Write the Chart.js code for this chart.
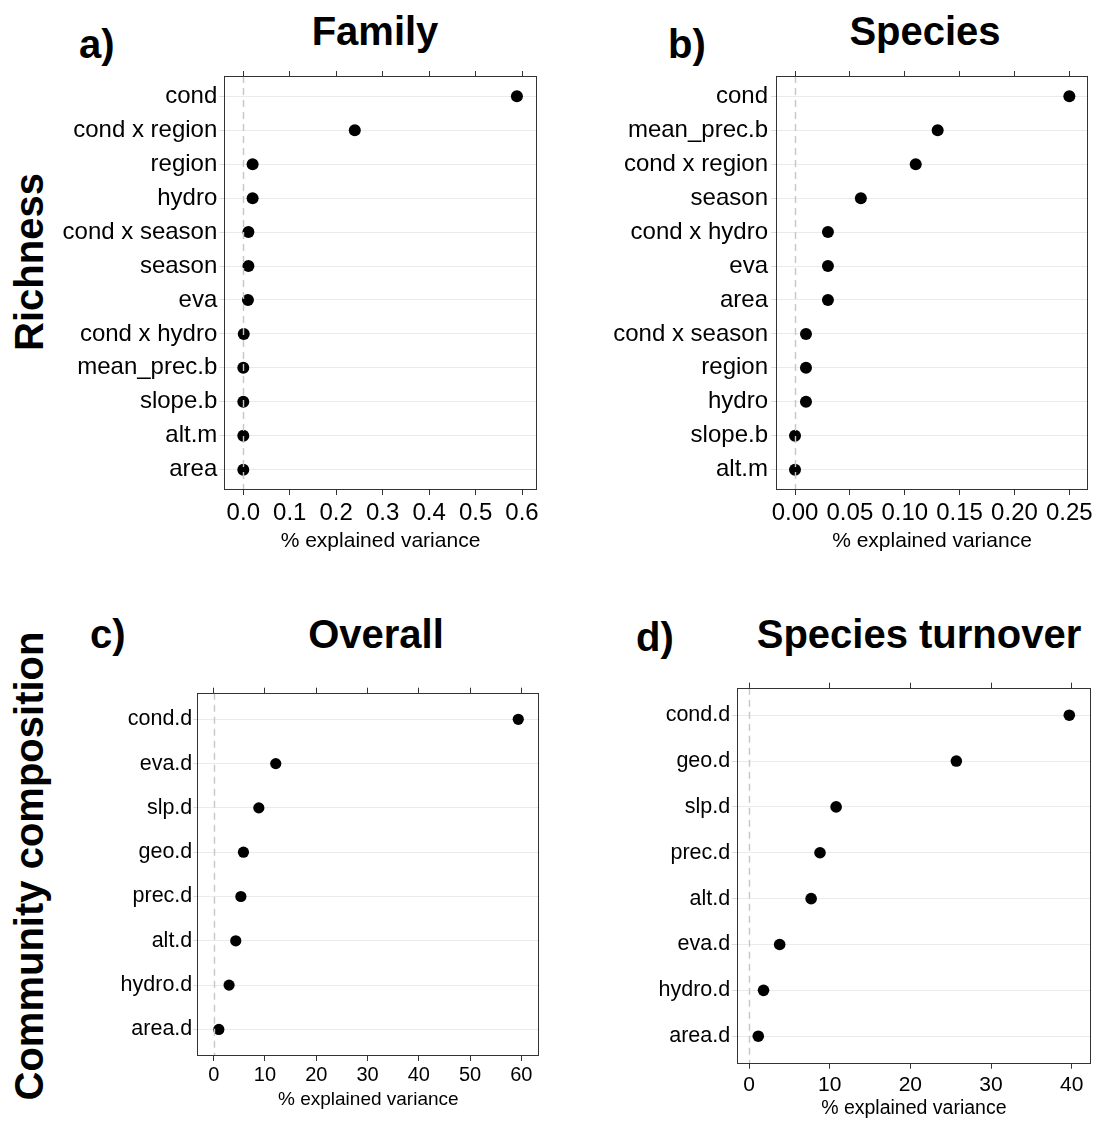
<!DOCTYPE html>
<html>
<head>
<meta charset="utf-8">
<title>Explained variance</title>
<script src="https://cdn.jsdelivr.net/npm/chart.js@4.4.1/dist/chart.umd.min.js"></script>
<style>
    body { margin: 0; background: #fff; }
    #page { position: relative; width: 1099px; height: 1122px; overflow: hidden; font-family: "Liberation Sans", Arial, Helvetica, sans-serif; color: #000; }
    .panel { position: absolute; }
    .title, .letter { position: absolute; font-weight: bold; font-size: 40px; line-height: 40px; white-space: nowrap; }
    .title { transform: translateX(-50%); }
    .rowlabel { position: absolute; font-weight: bold; font-size: 40px; line-height: 40px; white-space: nowrap; transform: translate(-50%, -50%) rotate(-90deg); }
</style>
</head>
<body>
<div id="page">
    <div class="rowlabel" style="left:29px; top:262px;">Richness</div>
    <div class="rowlabel" style="left:29px; top:866px;">Community composition</div>

    <div class="letter" style="left:79px; top:24px;">a)</div>
    <div class="title" style="left:375px; top:11px;">Family</div>
    <div class="letter" style="left:668px; top:24px;">b)</div>
    <div class="title" style="left:925px; top:11px;">Species</div>
    <div class="letter" style="left:90px; top:614px;">c)</div>
    <div class="title" style="left:376px; top:614px;">Overall</div>
    <div class="letter" style="left:636px; top:617px;">d)</div>
    <div class="title" style="left:919px; top:614px;">Species turnover</div>

    <canvas id="chart-a" class="panel" width="510" height="510" style="left:40px; top:60px;"></canvas>
    <canvas id="chart-b" class="panel" width="509" height="510" style="left:590px; top:60px;"></canvas>
    <canvas id="chart-c" class="panel" width="530" height="442" style="left:20px; top:680px;"></canvas>
    <canvas id="chart-d" class="panel" width="539" height="447" style="left:560px; top:675px;"></canvas>
</div>

<script>
// Richness: family level
const familyLabels = ['cond', 'cond x region', 'region', 'hydro', 'cond x season', 'season', 'eva', 'cond x hydro', 'mean_prec.b', 'slope.b', 'alt.m', 'area'];
const familyValues = [0.589, 0.240, 0.020, 0.020, 0.011, 0.011, 0.010, 0.001, 0.000, 0.000, 0.000, 0.000];
const familyTicks = [0, 0.1, 0.2, 0.3, 0.4, 0.5, 0.6];

// Richness: species level
const speciesLabels = ['cond', 'mean_prec.b', 'cond x region', 'season', 'cond x hydro', 'eva', 'area', 'cond x season', 'region', 'hydro', 'slope.b', 'alt.m'];
const speciesValues = [0.250, 0.130, 0.110, 0.060, 0.030, 0.030, 0.030, 0.010, 0.010, 0.010, 0.000, 0.000];
const speciesTicks = [0, 0.05, 0.10, 0.15, 0.20, 0.25];

// Community composition: overall
const overallLabels = ['cond.d', 'eva.d', 'slp.d', 'geo.d', 'prec.d', 'alt.d', 'hydro.d', 'area.d'];
const overallValues = [59.4, 12.1, 8.8, 5.8, 5.3, 4.3, 3.0, 1.0];
const overallTicks = [0, 10, 20, 30, 40, 50, 60];

// Community composition: species turnover
const turnoverLabels = ['cond.d', 'geo.d', 'slp.d', 'prec.d', 'alt.d', 'eva.d', 'hydro.d', 'area.d'];
const turnoverValues = [39.7, 25.7, 10.8, 8.8, 7.7, 3.8, 1.8, 1.15];
const turnoverTicks = [0, 10, 20, 30, 40];

const FONT = '"Liberation Sans", Arial, Helvetica, sans-serif';
Chart.defaults.font.family = FONT;
Chart.defaults.color = '#000';

// dashed zero line on top of the points, then the panel frame
const framePlugin = {
    id: 'frame',
    afterDatasetsDraw(chart) {
        const { ctx, chartArea, scales } = chart;
        const x0 = Math.round(scales.x.getPixelForValue(0)) + 0.5;
        ctx.save();
        ctx.strokeStyle = '#c6c6c6';
        ctx.lineWidth = 1.4;
        ctx.setLineDash([7, 5]);
        ctx.beginPath();
        ctx.moveTo(x0, chartArea.top);
        ctx.lineTo(x0, chartArea.bottom);
        ctx.stroke();
        ctx.setLineDash([]);
        ctx.strokeStyle = '#333';
        ctx.lineWidth = 1;
        const l = Math.round(chartArea.left) + 0.5;
        const t = Math.round(chartArea.top) + 0.5;
        const r = Math.round(chartArea.right) - 0.5;
        const b = Math.round(chartArea.bottom) - 0.5;
        ctx.strokeRect(l, t, r - l, b - t);
        ctx.restore();
    }
};

function makePanel(id, labels, values, ticks, decimals, cfg) {
    const points = values.map((v, i) => ({ x: v, y: i + 1 }));
    const xGrid = { drawOnChartArea: false, drawTicks: true, tickLength: 5, tickColor: '#333', lineWidth: 1 };

    return new Chart(document.getElementById(id), {
        type: 'scatter',
        data: {
            datasets: [{
                data: points,
                backgroundColor: '#000',
                borderWidth: 0,
                pointRadius: cfg.radius,
                pointHoverRadius: cfg.radius
            }]
        },
        options: {
            responsive: false,
            animation: false,
            devicePixelRatio: 1,
            layout: { padding: { left: 0, right: cfg.padRight, top: 0, bottom: 0 } },
            plugins: { legend: { display: false }, tooltip: { enabled: false } },
            scales: {
                x: {
                    type: 'linear',
                    position: 'bottom',
                    min: cfg.min,
                    max: cfg.max,
                    afterBuildTicks: s => { s.ticks = ticks.map(v => ({ value: v })); },
                    afterFit: s => { s.height = cfg.bottomHeight; },
                    ticks: {
                        autoSkip: false, maxRotation: 0, minRotation: 0,
                        padding: cfg.xTickPad,
                        font: { size: cfg.xFont },
                        color: '#000',
                        callback: v => v.toFixed(decimals)
                    },
                    grid: xGrid,
                    border: { display: false },
                    title: {
                        display: true,
                        text: '% explained variance',
                        color: '#000',
                        font: { size: cfg.titleFont },
                        padding: { top: 0, bottom: cfg.titlePad }
                    }
                },
                xTop: {
                    type: 'linear',
                    position: 'top',
                    min: cfg.min,
                    max: cfg.max,
                    afterBuildTicks: s => { s.ticks = ticks.map(v => ({ value: v })); },
                    afterFit: s => { s.height = cfg.topHeight; },
                    ticks: { display: false },
                    grid: xGrid,
                    border: { display: false }
                },
                y: {
                    type: 'linear',
                    reverse: true,
                    min: 0.4,
                    max: labels.length + 0.6,
                    afterBuildTicks: s => { s.ticks = labels.map((_, i) => ({ value: i + 1 })); },
                    afterFit: s => { s.width = cfg.yWidth; },
                    ticks: {
                        autoSkip: false,
                        padding: cfg.yTickPad,
                        font: { size: cfg.yFont, lineHeight: 1 },
                        color: '#000',
                        callback: v => labels[v - 1]
                    },
                    grid: { color: '#ebebeb', lineWidth: 1, drawTicks: true, tickLength: cfg.yTickLen, tickColor: '#dcdcdc' },
                    border: { display: false }
                }
            }
        },
        plugins: [framePlugin]
    });
}

makePanel('chart-a', familyLabels, familyValues, familyTicks, 1, {
    min: -0.0409, max: 0.6316, radius: 6,
    yWidth: 184.3, topHeight: 16, bottomHeight: 80, padRight: 13.3,
    xFont: 24, yFont: 24, titleFont: 21,
    xTickPad: 3.6, yTickPad: 2, yTickLen: 5, titlePad: 15.7
});

makePanel('chart-b', speciesLabels, speciesValues, speciesTicks, 2, {
    min: -0.01732, max: 0.2670, radius: 6,
    yWidth: 186, topHeight: 16, bottomHeight: 80, padRight: 11,
    xFont: 24, yFont: 24, titleFont: 21,
    xTickPad: 3.6, yTickPad: 3, yTickLen: 5, titlePad: 15.7
});

makePanel('chart-c', overallLabels, overallValues, overallTicks, 0, {
    min: -3.2, max: 63.5, radius: 5.6,
    yWidth: 177.3, topHeight: 12.7, bottomHeight: 66, padRight: 10.7,
    xFont: 20, yFont: 21.5, titleFont: 19,
    xTickPad: 2, yTickPad: 1, yTickLen: 4, titlePad: 10.6
});

makePanel('chart-d', turnoverLabels, turnoverValues, turnoverTicks, 0, {
    min: -1.525, max: 42.39, radius: 5.8,
    yWidth: 176.7, topHeight: 12.7, bottomHeight: 58.3, padRight: 8,
    xFont: 21, yFont: 21.5, titleFont: 19.5,
    xTickPad: 3.7, yTickPad: 1.5, yTickLen: 5, titlePad: 1.3
});
</script>
</body>
</html>
